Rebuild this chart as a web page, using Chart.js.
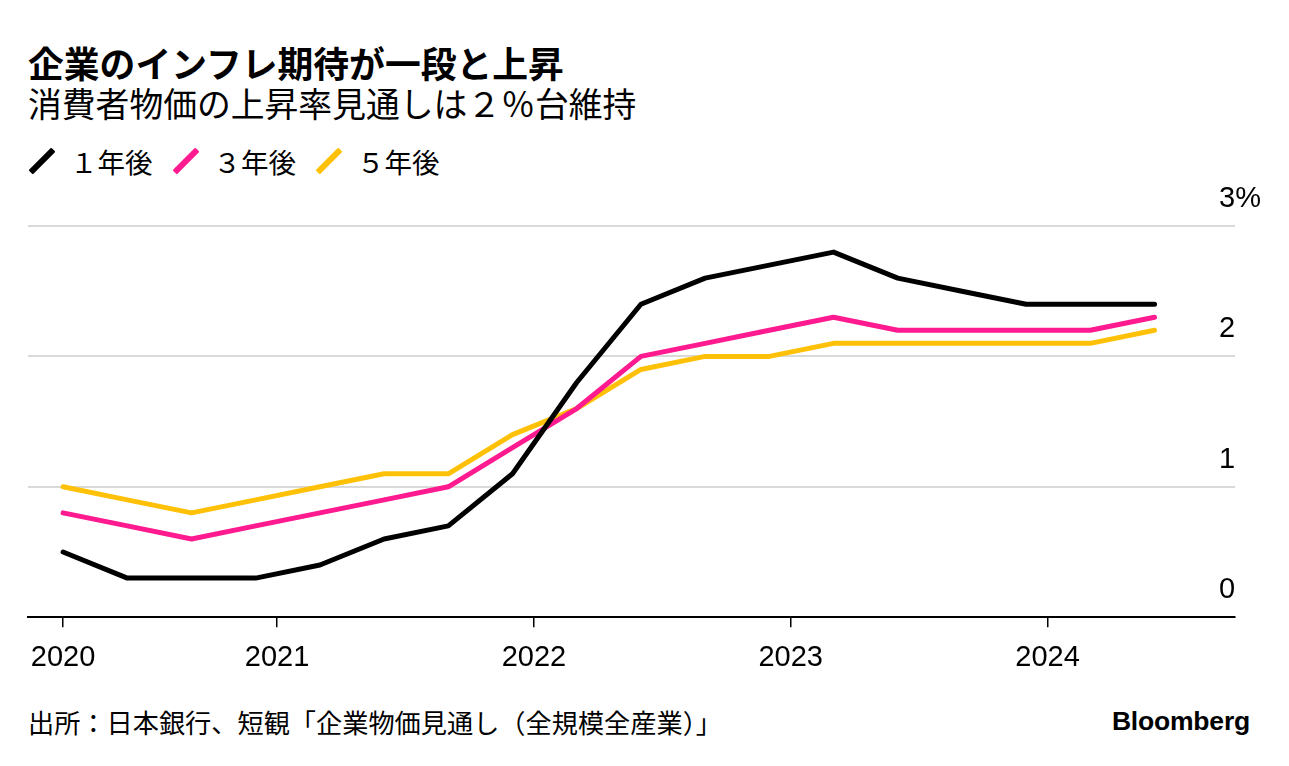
<!DOCTYPE html>
<html lang="ja">
<head>
<meta charset="utf-8">
<title>企業のインフレ期待</title>
<script src="https://cdn.jsdelivr.net/npm/chart.js@4/dist/chart.umd.min.js"></script>
<style>
  html, body { margin: 0; padding: 0; background: #fff; }
  body { width: 1289px; height: 766px; position: relative; overflow: hidden;
         font-family: "Liberation Sans", "Noto Sans CJK JP", sans-serif; color: #000; }
  .abs { position: absolute; white-space: nowrap; line-height: 1; }
  #title { left: 28px; top: 36px; font: 700 35.8px "Noto Sans CJK JP", sans-serif; }
  #subtitle { left: 28px; top: 78px; font: 400 33.8px "Noto Sans CJK JP", sans-serif; }
  #legend { left: 28px; top: 141px; display: flex; font: 400 27.5px "Noto Sans CJK JP", sans-serif; }
  .item { display: flex; align-items: center; width: 143.5px; }
  .swatch { width: 6px; height: 32px; transform: rotate(45deg); margin: 0 25px 0 11px; border-radius: 1px; }
  #chartBox { left: 0; top: 180px; width: 1289px; height: 514px; }
  #source { left: 28px; top: 703px; font: 400 26.2px "Noto Sans CJK JP", sans-serif; }
  #brand { right: 39px; top: 706px; font: 700 26.5px "Liberation Sans", sans-serif; letter-spacing: -0.2px; }
</style>
</head>
<body>
<div id="title" class="abs">企業のインフレ期待が一段と上昇</div>
<div id="subtitle" class="abs">消費者物価の上昇率見通しは２％台維持</div>
<div id="legend" class="abs"></div>
<div id="chartBox" class="abs"><canvas id="chart"></canvas></div>
<div id="source" class="abs">出所：日本銀行、短観「企業物価見通し（全規模全産業）」</div>
<div id="brand" class="abs">Bloomberg</div>
<script>
(function () {
  "use strict";

  // survey months (Tankan, quarterly)
  const surveyDates = ["2020-03", "2020-06", "2020-09", "2020-12",
                       "2021-03", "2021-06", "2021-09", "2021-12",
                       "2022-03", "2022-06", "2022-09", "2022-12",
                       "2023-03", "2023-06", "2023-09", "2023-12",
                       "2024-03", "2024-06"];
  const oneYear   = [0.5, 0.3, 0.3, 0.3, 0.4, 0.6, 0.7, 1.1, 1.8, 2.4, 2.6, 2.7, 2.8, 2.6, 2.5, 2.4, 2.4, 2.4];
  const threeYear = [0.8, 0.7, 0.6, 0.7, 0.8, 0.9, 1.0, 1.3, 1.6, 2.0, 2.1, 2.2, 2.3, 2.2, 2.2, 2.2, 2.2, 2.3];
  const fiveYear  = [1.0, 0.9, 0.8, 0.9, 1.0, 1.1, 1.1, 1.4, 1.6, 1.9, 2.0, 2.0, 2.1, 2.1, 2.1, 2.1, 2.1, 2.2];

  const seriesNames  = ["１年後", "３年後", "５年後"];
  const seriesColors = ["#000000", "#ff1a8f", "#ffc107"];

  const xTickValues = [2020 + 2 / 12, 2021, 2022, 2023, 2024];
  const xTickLabels = ["2020", "2021", "2022", "2023", "2024"];
  const yTickValues = [0, 1, 2, 3];
  const yTickLabels = ["0", "1", "2", "3%"];

  const toYear = (s) => { const [y, m] = s.split("-").map(Number); return y + (m - 1) / 12; };
  const points = (vals) => vals.map((v, i) => ({ x: toYear(surveyDates[i]), y: v }));

  /* ---------- Legend ---------- */
  document.getElementById("legend").innerHTML = seriesNames.map((n, i) =>
    `<div class="item"><div class="swatch" style="background:${seriesColors[i]}"></div><span>${n}</span></div>`
  ).join("");

  /* ---------- Y labels sit above the gridlines, right side ---------- */
  const yLabelPlugin = {
    id: "yLabels",
    afterDraw(chart) {
      const { ctx, chartArea, scales: { y } } = chart;
      ctx.save();
      ctx.font = "29px 'Liberation Sans', sans-serif";
      ctx.fillStyle = "#000";
      ctx.textAlign = "left";
      ctx.textBaseline = "middle";
      yTickValues.forEach((v, i) => {
        ctx.fillText(yTickLabels[i], chartArea.right - 16, y.getPixelForValue(v) - 27);
      });
      ctx.restore();
    }
  };

  const data = [oneYear, threeYear, fiveYear];

  new Chart(document.getElementById("chart"), {
    type: "line",
    data: {
      datasets: data.map((vals, i) => ({
        label: seriesNames[i],
        data: points(vals),
        borderColor: seriesColors[i],
        backgroundColor: seriesColors[i],
        borderWidth: 5,
        borderCapStyle: "round",
        borderJoinStyle: "round",
        pointRadius: 0,
        tension: 0,
        fill: false
      }))
    },
    options: {
      responsive: true,
      maintainAspectRatio: false,
      animation: false,
      layout: { padding: { left: 28, right: 54, top: 46, bottom: 6 } },
      plugins: { legend: { display: false }, tooltip: { enabled: false } },
      scales: {
        x: {
          type: "linear",
          min: 2020.03,
          max: 2024.73,
          afterBuildTicks: (s) => { s.ticks = xTickValues.map(v => ({ value: v })); },
          ticks: {
            autoSkip: false, maxRotation: 0, padding: 13,
            color: "#000", font: { family: "'Liberation Sans', sans-serif", size: 29 },
            callback: (v, i) => xTickLabels[i]
          },
          grid: { drawOnChartArea: false, drawTicks: true, tickLength: 10, color: "#000", lineWidth: 1.5 },
          border: { display: true, color: "#000", width: 2 }
        },
        y: {
          position: "right",
          min: 0,
          max: 3,
          afterBuildTicks: (s) => { s.ticks = yTickValues.map(v => ({ value: v })); },
          afterFit: (s) => { s.width = 0; },
          ticks: { display: false },
          grid: { drawTicks: false, color: "#d9d9d9", lineWidth: 2 },
          border: { display: false }
        }
      }
    },
    plugins: [yLabelPlugin]
  });
})();
</script>
</body>
</html>
